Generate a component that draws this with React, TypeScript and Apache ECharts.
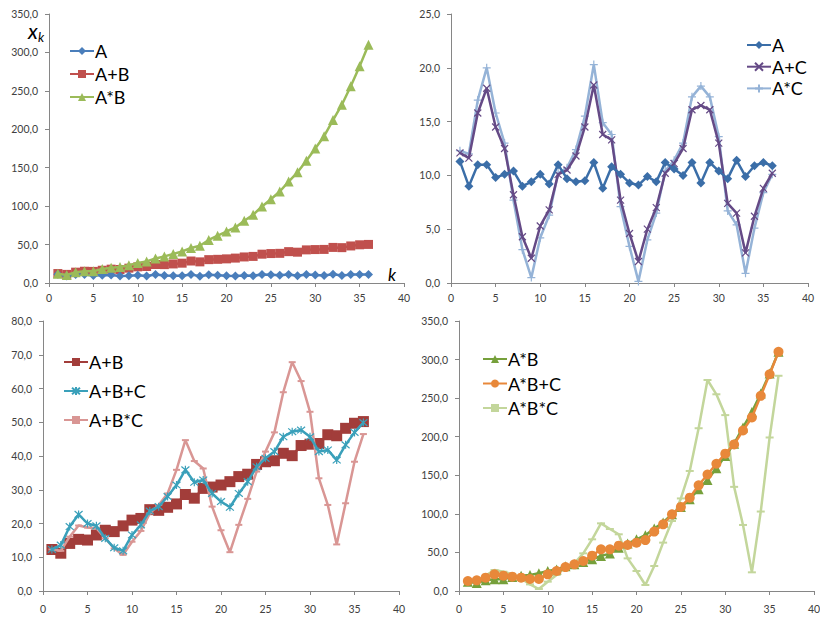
import React, { useEffect, useRef } from "react";
import * as echarts from "echarts";

const K = [1, 2, 3, 4, 5, 6, 7, 8, 9, 10, 11, 12, 13, 14, 15, 16, 17, 18, 19, 20, 21, 22, 23, 24, 25, 26, 27, 28, 29, 30, 31, 32, 33, 34, 35, 36];

const A = [11.3, 9.0, 11.0, 11.0, 9.8, 10.1, 10.4, 9.0, 9.4, 10.1, 9.2, 11.0, 9.7, 9.4, 9.5, 11.2, 8.8, 10.8, 10.1, 9.3, 9.1, 9.9, 9.4, 11.2, 10.6, 10.0, 11.2, 9.3, 11.2, 10.4, 9.7, 11.4, 9.9, 10.9, 11.2, 10.9];
const AplusC = [12.1, 11.6, 15.8, 18.1, 14.5, 12.5, 8.2, 4.3, 2.3, 5.3, 6.8, 10.1, 10.5, 11.8, 14.5, 18.4, 13.8, 13.3, 7.7, 4.6, 2.0, 5.0, 7.0, 10.2, 11.1, 12.5, 16.1, 16.5, 16.1, 13.0, 7.4, 6.5, 2.8, 6.2, 8.8, 10.2];
const AtimesC = [12.3, 12.0, 17.0, 20.0, 15.8, 13.0, 7.7, 3.1, 0.5, 4.2, 6.3, 10.2, 10.7, 12.4, 15.5, 20.3, 14.9, 13.8, 7.1, 3.4, 0.15, 4.0, 6.5, 10.4, 11.4, 13.0, 17.3, 18.3, 17.3, 13.6, 6.7, 5.4, 0.9, 5.1, 8.4, 10.1];
const AplusB = [12.3, 11.2, 14.1, 15.3, 15.1, 16.6, 18.0, 17.6, 19.3, 21.0, 21.5, 24.1, 23.9, 24.8, 25.8, 28.6, 27.5, 30.4, 30.8, 31.4, 32.4, 33.9, 34.6, 37.5, 38.3, 38.6, 40.8, 40.1, 43.1, 43.5, 43.7, 46.3, 46.0, 48.2, 49.7, 50.2];
const AplusBplusC = [12.3, 13.6, 19.1, 22.7, 20.0, 19.3, 15.6, 12.8, 11.9, 16.6, 19.6, 23.7, 25.0, 28.0, 31.4, 35.9, 32.2, 32.9, 28.9, 26.5, 24.8, 28.9, 32.4, 36.8, 39.3, 41.3, 45.7, 47.2, 47.7, 45.7, 41.3, 41.8, 38.8, 43.3, 47.0, 49.9];
const AplusBtimesC = [12.3, 11.9, 16.1, 19.4, 18.8, 18.6, 15.6, 12.6, 10.7, 14.6, 17.8, 23.0, 25.5, 28.9, 35.9, 44.7, 38.5, 36.3, 25.0, 18.0, 11.5, 19.6, 27.3, 35.4, 41.3, 47.0, 58.9, 67.8, 62.2, 53.1, 33.4, 25.5, 13.8, 26.0, 38.3, 46.5];
const AtimesB = [12.1, 10.4, 13.9, 15.2, 15.2, 18.2, 19.9, 20.8, 23.0, 26.0, 28.0, 32.0, 34.6, 37.7, 41.1, 45.5, 48.5, 56.0, 61.5, 67.0, 72.3, 81.0, 88.8, 99.6, 109, 119, 132, 144, 159, 175, 191, 212, 232, 256, 282, 310];
const AtimesBplusC = [13.0, 13.8, 17.3, 21.6, 19.9, 18.6, 17.3, 15.6, 15.6, 21.6, 25.9, 31.0, 34.6, 38.9, 45.8, 54.0, 54.0, 58.8, 59.6, 62.7, 66.0, 77.0, 86.4, 99.4, 109, 121, 137, 151, 165, 178, 190, 208, 225, 253, 281, 310];
const AtimesBtimesC = [13.0, 13.0, 19.9, 27.2, 25.0, 21.6, 16.4, 8.6, 2.6, 12.1, 20.7, 31.5, 35.9, 48.8, 67.0, 87.7, 80.4, 73.5, 42.3, 25.9, 7.8, 32.4, 62.7, 90.7, 120, 155.6, 211, 273.5, 255, 228, 135, 85.6, 24.2, 103, 199, 279];

const X_TICKS = { min: 0, max: 40, interval: 5 };
const Y_RANGES = [
  { min: 0, max: 350, interval: 50 },
  { min: 0, max: 25, interval: 5 },
  { min: 0, max: 80, interval: 10 },
  { min: 0, max: 350, interval: 50 },
];

const FONT = "Lato, 'Liberation Sans', sans-serif";
const AXIS_COLOR = "#868686";
const LABEL_COLOR = "#404040";

const SYM_X = "path://M0,0L10,10M10,0L0,10";
const SYM_PLUS = "path://M5,0L5,10M0,5L10,5";
const SYM_STAR = "path://M0,0L10,10M10,0L0,10M5,-1L5,11";

const GRIDS = [
  { left: 49, top: 14, width: 355, height: 269 },
  { left: 451, top: 14, width: 357, height: 269 },
  { left: 43, top: 321, width: 356, height: 270 },
  { left: 459, top: 321, width: 355, height: 270 },
];

function pairs(vals: number[]) {
  return K.map((k, i) => [k, vals[i]]);
}

function line(
  name: string,
  vals: number[],
  gi: number,
  color: string,
  symbol: string,
  size: number | number[],
  stroked = false,
  z = 2
) {
  return {
    type: "line",
    name,
    xAxisIndex: gi,
    yAxisIndex: gi,
    data: pairs(vals),
    symbol,
    symbolSize: size,
    showAllSymbol: true,
    z,
    lineStyle: { color, width: 2.5 },
    itemStyle: stroked
      ? { color: "rgba(0,0,0,0)", borderColor: color, borderWidth: 1.2 }
      : { color, borderWidth: 0 },
    emphasis: { disabled: true },
  };
}

export default function App() {
  const ref = useRef<HTMLDivElement>(null);

  useEffect(() => {
    if (!ref.current) return;
    const chart = echarts.init(ref.current, undefined, { renderer: "svg" });

    const fmt = (v: number) => v.toFixed(1).replace(".", ",");

    const xAxes = GRIDS.map((_, i) => ({
      type: "value",
      gridIndex: i,
      ...X_TICKS,
      axisLine: { show: true, lineStyle: { color: AXIS_COLOR, width: 1 } },
      axisTick: { show: true, inside: false, length: 4, lineStyle: { color: AXIS_COLOR } },
      splitLine: { show: false },
      axisLabel: {
        color: LABEL_COLOR,
        fontSize: 10.5,
        fontFamily: FONT,
        margin: i < 2 ? 9 : 12,
      },
    }));

    const yAxes = GRIDS.map((_, i) => ({
      type: "value",
      gridIndex: i,
      ...Y_RANGES[i],
      axisLine: { show: true, lineStyle: { color: AXIS_COLOR, width: 1 } },
      axisTick: { show: true, inside: false, length: 4, lineStyle: { color: AXIS_COLOR } },
      splitLine: { show: false },
      axisLabel: {
        color: LABEL_COLOR,
        fontSize: 10.5,
        fontFamily: FONT,
        margin: 11,
        formatter: fmt,
      },
    }));

    const series = [
      line("A#1", A, 0, "#4A7EBB", "diamond", 9, false, 3),
      line("A+B#1", AplusB, 0, "#C0504D", "rect", 9),
      line("A*B#1", AtimesB, 0, "#9BBB59", "triangle", 10, false, 4),

      line("A#2", A, 1, "#3B6EA8", "diamond", 9, false, 5),
      line("A+C#2", AplusC, 1, "#654A86", SYM_X, 7, true, 3),
      line("A*C#2", AtimesC, 1, "#95B3D7", SYM_PLUS, 8, true, 2),

      line("A+B#3", AplusB, 2, "#A23D3A", "rect", 11, false, 2),
      line("A+B+C#3", AplusBplusC, 2, "#3AA0BA", SYM_STAR, 8, true, 4),
      line("A+B*C#3", AplusBtimesC, 2, "#D99694", "rect", [7, 2], false, 3),

      line("A*B#4", AtimesB, 3, "#76A03B", "triangle", 10, false, 2),
      line("A*B+C#4", AtimesBplusC, 3, "#E8883A", "circle", 10, false, 3),
      line("A*B*C#4", AtimesBtimesC, 3, "#C3D69B", "rect", [8, 2], false, 1),
    ];

    const legendBase = {
      orient: "vertical",
      itemWidth: 24,
      itemHeight: 10,
      textStyle: { fontSize: 18, fontFamily: FONT, color: "#000", lineHeight: 18, padding: [0, 0, 0, -4] },
      formatter: (n: string) => n.split("#")[0],
      selectedMode: false,
    };

    const legends = [
      { ...legendBase, left: 64, top: 37, itemGap: 5, data: ["A#1", "A+B#1", "A*B#1"] },
      { ...legendBase, left: 741, top: 31, itemGap: 3.7, data: ["A#2", "A+C#2", "A*C#2"] },
      { ...legendBase, left: 58, top: 348, itemGap: 11, data: ["A+B#3", "A+B+C#3", "A+B*C#3"] },
      { ...legendBase, left: 477, top: 345, itemGap: 6.5, data: ["A*B#4", "A*B+C#4", "A*B*C#4"] },
    ];

    chart.setOption({
      animation: false,
      backgroundColor: "#ffffff",
      textStyle: { fontFamily: FONT },
      grid: GRIDS.map((g) => ({ ...g, containLabel: false, outerBoundsMode: "none" })),
      xAxis: xAxes,
      yAxis: yAxes,
      legend: legends,
      series,
      graphic: [
        {
          type: "text",
          x: 28,
          y: 21,
          style: { text: "x", fontSize: 21, lineHeight: 18, fontStyle: "italic", fontFamily: FONT, fill: "#000" },
        },
        {
          type: "text",
          x: 38,
          y: 30,
          style: { text: "k", fontSize: 13, fontStyle: "italic", fontFamily: FONT, fill: "#000" },
        },
        {
          type: "text",
          x: 388,
          y: 266,
          style: { text: "k", fontSize: 17, fontStyle: "italic", fontFamily: FONT, fill: "#000" },
        },
      ],
    });

    return () => chart.dispose();
  }, []);

  return (
    <div
      ref={ref}
      style={{ position: "absolute", left: 0, top: 0, width: 820, height: 619 }}
    />
  );
}
